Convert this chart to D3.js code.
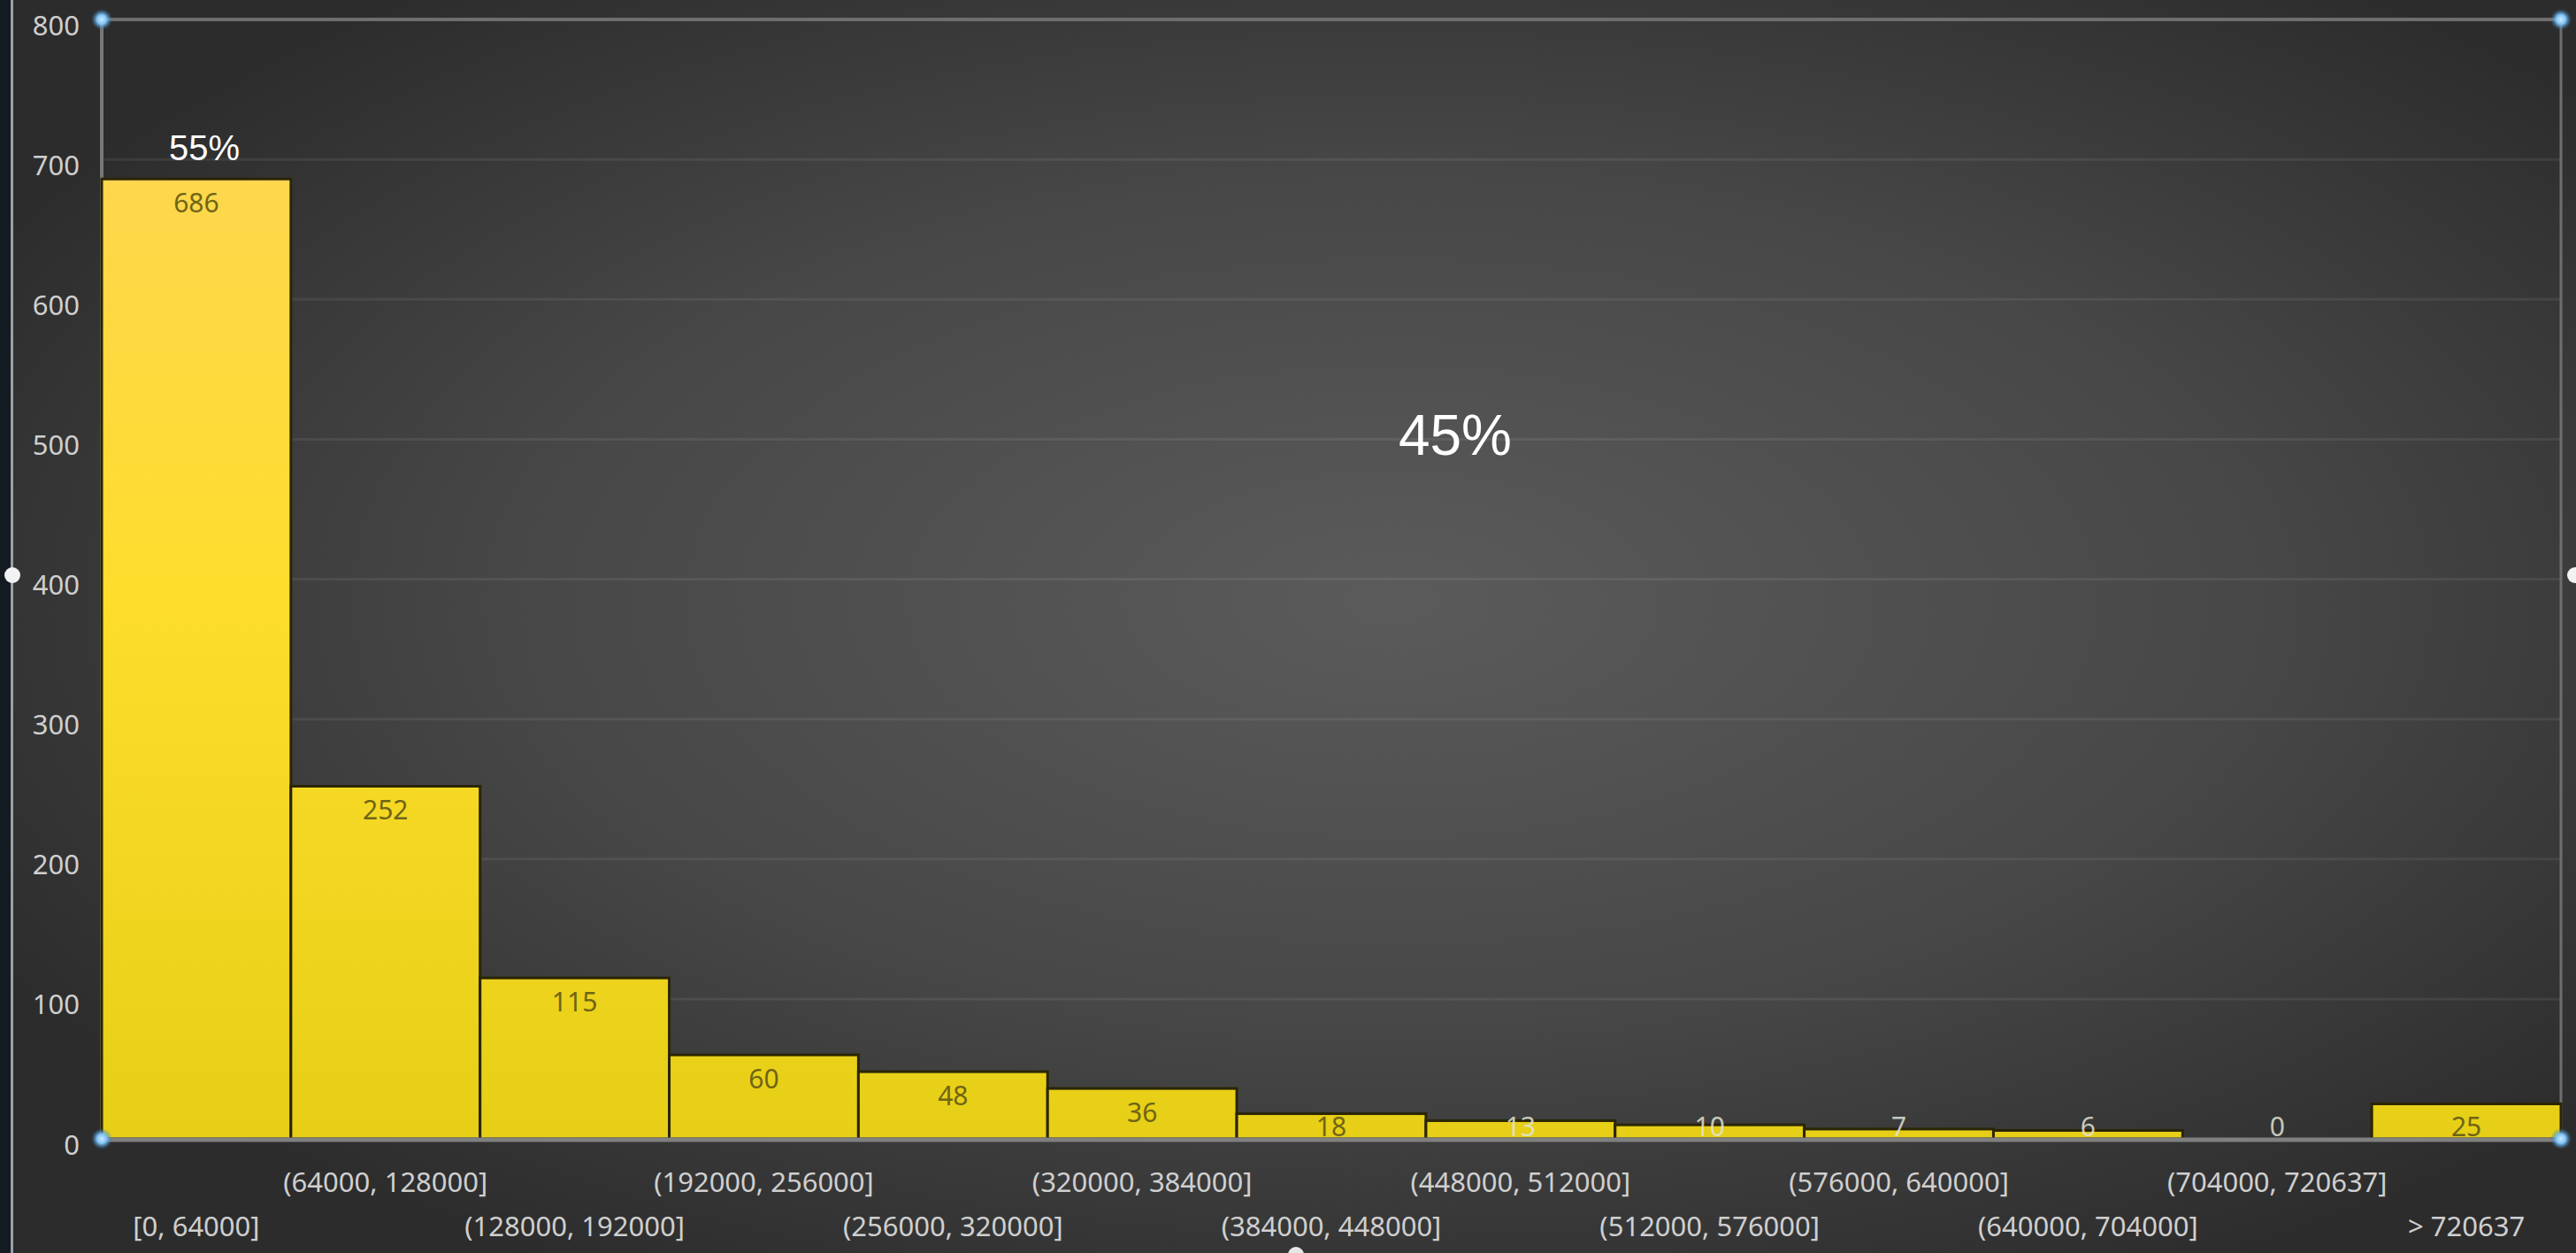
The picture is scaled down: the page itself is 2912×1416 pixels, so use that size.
<!DOCTYPE html>
<html>
<head>
<meta charset="utf-8">
<script src="https://cdn.jsdelivr.net/npm/d3@7"></script>
<style>
  html, body { margin: 0; padding: 0; background: #2c2c2c; overflow: hidden; }
  svg { display: block; }
</style>
</head>
<body>
<script>
// bins of the histogram and their counts
var categories = ["[0, 64000]", "(64000, 128000]", "(128000, 192000]", "(192000, 256000]",
  "(256000, 320000]", "(320000, 384000]", "(384000, 448000]", "(448000, 512000]",
  "(512000, 576000]", "(576000, 640000]", "(640000, 704000]", "(704000, 720637]", "> 720637"];
var counts = [686, 252, 115, 60, 48, 36, 18, 13, 10, 7, 6, 0, 25];
var yTicks = [0, 100, 200, 300, 400, 500, 600, 700, 800];
// share annotations: first bin vs the rest
var shareLabels = ["55%", "45%"];

var width = 2912;
var height = 1416;
var margin = { top: 22, right: 17, bottom: 129, left: 115 };

var svg = d3.select("body").append("svg")
  .attr("width", width)
  .attr("height", height);

var defs = svg.append("defs");

// background glow
var bg = defs.append("radialGradient").attr("id", "bg")
  .attr("cx", 0.54).attr("cy", 0.48).attr("r", 0.62);
bg.append("stop").attr("offset", 0).attr("stop-color", "#5b5b5b");
bg.append("stop").attr("offset", 0.55).attr("stop-color", "#474747");
bg.append("stop").attr("offset", 1).attr("stop-color", "#2c2c2c");

svg.append("rect").attr("width", width).attr("height", height).attr("fill", "url(#bg)");

// scales
var x = d3.scaleBand().domain(categories).range([margin.left, width - margin.right]).padding(0);
var y = d3.scaleLinear().domain([0, 800]).range([height - margin.bottom, margin.top]);

// bar gradient, in chart coordinates so short bars share the bottom colour
var barGrad = defs.append("linearGradient").attr("id", "barGrad")
  .attr("gradientUnits", "userSpaceOnUse")
  .attr("x1", 0).attr("x2", 0).attr("y1", y(700)).attr("y2", y(0));
barGrad.append("stop").attr("offset", 0).attr("stop-color", "#ffd64e");
barGrad.append("stop").attr("offset", 0.45).attr("stop-color", "#fedd2c");
barGrad.append("stop").attr("offset", 1).attr("stop-color", "#e6cf16");

var handleGrad = defs.append("radialGradient").attr("id", "handle");
handleGrad.append("stop").attr("offset", 0).attr("stop-color", "#cfeaff");
handleGrad.append("stop").attr("offset", 0.45).attr("stop-color", "#7fc3f5");
handleGrad.append("stop").attr("offset", 1).attr("stop-color", "#2f6fa8").attr("stop-opacity", 0);

// gridlines
svg.append("g")
  .selectAll("line")
  .data(yTicks.filter(function (d) { return d > 0 && d < 800; }))
  .join("line")
  .attr("x1", margin.left).attr("x2", width - margin.right)
  .attr("y1", function (d) { return y(d); }).attr("y2", function (d) { return y(d); })
  .attr("stroke", "#ffffff").attr("stroke-opacity", 0.07).attr("stroke-width", 3);

// plot frame
svg.append("line").attr("x1", margin.left).attr("x2", width - margin.right)
  .attr("y1", y(800)).attr("y2", y(800))
  .attr("stroke", "#6e6e6e").attr("stroke-width", 4);
svg.append("line").attr("x1", margin.left).attr("x2", margin.left)
  .attr("y1", y(800)).attr("y2", y(0))
  .attr("stroke", "#777777").attr("stroke-width", 4);
svg.append("line").attr("x1", width - margin.right).attr("x2", width - margin.right)
  .attr("y1", y(800)).attr("y2", y(0))
  .attr("stroke", "#6e6e6e").attr("stroke-width", 3);

// y axis
var yAxis = svg.append("g")
  .attr("transform", "translate(" + (margin.left - 25) + ",0)")
  .call(d3.axisLeft(y).tickValues(yTicks).tickSize(0).tickPadding(0));
yAxis.select(".domain").remove();
yAxis.selectAll("text")
  .attr("dy", "0.55em")
  .attr("fill", "#cfcfcf")
  .style("font-family", "'Noto Sans', sans-serif")
  .style("font-size", "31px");

// bars
svg.append("g")
  .selectAll("rect")
  .data(counts)
  .join("rect")
  .attr("x", function (d, i) { return x(categories[i]); })
  .attr("width", x.bandwidth())
  .attr("y", function (d) { return y(d); })
  .attr("height", function (d) { return y(0) - y(d); })
  .attr("fill", "url(#barGrad)")
  .attr("stroke", "#2a2504")
  .attr("stroke-width", function (d) { return d > 0 ? 3 : 0; });

// x axis base line
svg.append("line").attr("x1", margin.left).attr("x2", width - margin.right)
  .attr("y1", y(0) + 1).attr("y2", y(0) + 1)
  .attr("stroke", "#808080").attr("stroke-width", 5);

// value labels inside the bars
svg.append("g")
  .selectAll("text")
  .data(counts)
  .join("text")
  .attr("x", function (d, i) { return x(categories[i]) + x.bandwidth() / 2; })
  .attr("y", function (d) { return Math.min(y(d) + 27, y(0) - 14); })
  .attr("dy", "0.36em")
  .attr("text-anchor", "middle")
  .attr("fill", function (d) { return d >= 15 ? "#6f6515" : "#e2e2d8"; })
  .attr("fill-opacity", function (d) { return d >= 15 ? 1 : 0.85; })
  .style("font-family", "'Noto Sans', sans-serif")
  .style("font-size", "30px")
  .text(function (d) { return d; });

// x axis labels, staggered on two rows
var xAxis = svg.append("g")
  .attr("transform", "translate(0," + y(0) + ")")
  .call(d3.axisBottom(x).tickSize(0).tickPadding(0));
xAxis.select(".domain").remove();
xAxis.selectAll("text")
  .attr("y", function (d, i) { return i % 2 === 1 ? 49 : 99; })
  .attr("dy", "0.36em")
  .attr("fill", "#cfcfcf")
  .style("font-family", "'Noto Sans', sans-serif")
  .style("font-size", "31px");

// share annotations
svg.append("text")
  .attr("x", x(categories[0]) + x.bandwidth() / 2 + 9)
  .attr("y", y(counts[0]) - 36)
  .attr("dy", "0.36em")
  .attr("text-anchor", "middle")
  .attr("fill", "#ffffff")
  .style("font-family", "'Liberation Sans', Arial, sans-serif")
  .style("font-size", "40px")
  .text(shareLabels[0]);

svg.append("text")
  .attr("x", (x(categories[1]) + width - margin.right) / 2 + 33)
  .attr("y", y(500) - 5)
  .attr("dy", "0.36em")
  .attr("text-anchor", "middle")
  .attr("fill", "#ffffff")
  .style("font-family", "'Liberation Sans', Arial, sans-serif")
  .style("font-size", "64px")
  .text(shareLabels[1]);

// selection handles at plot corners
var corners = [[margin.left, y(800)], [width - margin.right, y(800)], [margin.left, y(0)], [width - margin.right, y(0)]];
svg.append("g").selectAll("circle").data(corners).join("circle")
  .attr("cx", function (d) { return d[0]; }).attr("cy", function (d) { return d[1]; })
  .attr("r", 12).attr("fill", "url(#handle)");

// window edge on the left
svg.append("rect").attr("x", 0).attr("y", 0).attr("width", 12).attr("height", height).attr("fill", "#131a22");
svg.append("rect").attr("x", 12).attr("y", 0).attr("width", 3).attr("height", height).attr("fill", "#9aa0a6");
svg.append("circle").attr("cx", 14).attr("cy", 650).attr("r", 9).attr("fill", "#f2f2f2");
svg.append("circle").attr("cx", width - 1).attr("cy", 650).attr("r", 9).attr("fill", "#f2f2f2");
svg.append("circle").attr("cx", 1465).attr("cy", height + 2).attr("r", 9).attr("fill", "#e6e6e6");
</script>
</body>
</html>
